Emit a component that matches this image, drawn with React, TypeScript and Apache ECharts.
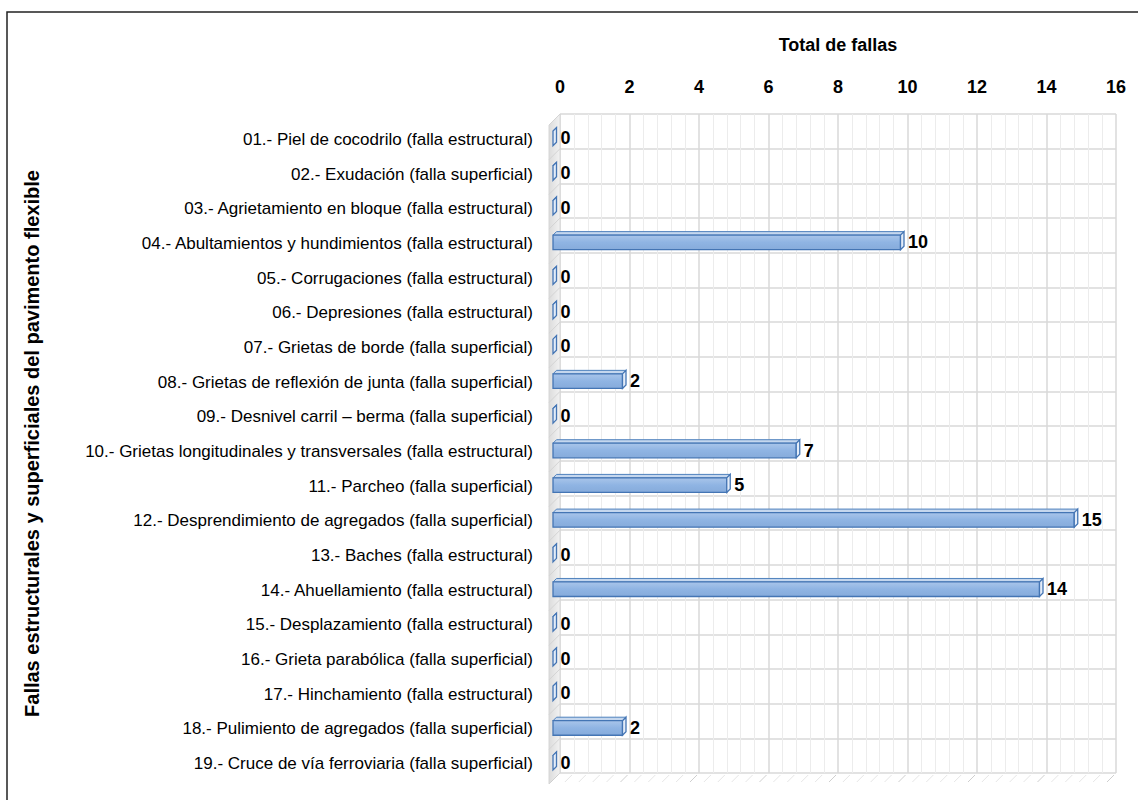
import React, { useEffect, useRef } from "react";
import * as echarts from "echarts";

const categories: string[] = [
  "01.- Piel de cocodrilo (falla estructural)",
  "02.- Exudación (falla superficial)",
  "03.- Agrietamiento en bloque (falla estructural)",
  "04.- Abultamientos y hundimientos (falla estructural)",
  "05.- Corrugaciones (falla estructural)",
  "06.- Depresiones (falla estructural)",
  "07.- Grietas de borde (falla superficial)",
  "08.- Grietas de reflexión de junta (falla superficial)",
  "09.- Desnivel carril – berma (falla superficial)",
  "10.- Grietas longitudinales y transversales (falla estructural)",
  "11.- Parcheo (falla superficial)",
  "12.- Desprendimiento de agregados (falla superficial)",
  "13.- Baches (falla estructural)",
  "14.- Ahuellamiento (falla estructural)",
  "15.- Desplazamiento (falla estructural)",
  "16.- Grieta parabólica (falla superficial)",
  "17.- Hinchamiento (falla estructural)",
  "18.- Pulimiento de agregados (falla superficial)",
  "19.- Cruce de vía ferroviaria (falla superficial)",
];

const totals: number[] = [0, 0, 0, 10, 0, 0, 0, 2, 0, 7, 5, 15, 0, 14, 0, 0, 0, 2, 0];

const axisMin = 0;
const axisMax = 16;
const axisStep = 2;

const xTitle = "Total de fallas";
const yTitle = "Fallas estructurales y superficiales del pavimento flexible";

// plot geometry (back wall of the 3-D box)
const GL = 560;
const GT = 114;
const GW = 556;
const GH = 659;
const DEPTH = 11; // perspective offset of the side wall / floor

const FONT = "'Liberation Sans', Arial, sans-serif";

function buildWallGraphics() {
  const els: any[] = [];
  const bottom = GT + GH;
  // outer frame
  els.push({
    type: "rect",
    z: 0,
    shape: { x: 7, y: 12, width: 1150, height: 820 },
    style: { fill: "none", stroke: "#222", lineWidth: 1.5 },
  });
  // left side wall
  els.push({
    type: "polygon",
    z: 1,
    shape: {
      points: [
        [GL, GT],
        [GL - DEPTH, GT + DEPTH],
        [GL - DEPTH, bottom + DEPTH],
        [GL, bottom],
      ],
    },
    style: {
      fill: new echarts.graphic.LinearGradient(0, 0, 1, 0, [
        { offset: 0, color: "#dcdcdc" },
        { offset: 1, color: "#f2f2f2" },
      ]),
      stroke: "#d6d6d6",
      lineWidth: 1,
    },
  });
  const rowH = GH / categories.length;
  for (let i = 0; i <= categories.length; i++) {
    const y = GT + i * rowH;
    els.push({
      type: "line",
      z: 1,
      shape: { x1: GL, y1: y, x2: GL - DEPTH, y2: y + DEPTH },
      style: { stroke: "#d4d4d4", lineWidth: 1 },
    });
  }
  // floor hatch
  const minorCount = ((axisMax - axisMin) / axisStep) * 5;
  for (let j = 0; j <= minorCount; j++) {
    const x = GL + (j * GW) / minorCount;
    const major = j % 5 === 0;
    els.push({
      type: "line",
      z: 1,
      shape: { x1: x - 2, y1: bottom + 2, x2: x - DEPTH + 2, y2: bottom + DEPTH - 2 },
      style: { stroke: major ? "#cfcfcf" : "#e6e6e6", lineWidth: 1 },
    });
  }
  return els;
}

function renderBar(params: any, api: any) {
  const idx = api.value(0);
  const val = api.value(1);
  const p0 = api.coord([0, idx]);
  const p1 = api.coord([val, idx]);
  const band = api.size([0, 1])[1];
  const h = band * 0.42;
  const d = 3.5;
  const fx0 = p0[0] - 7;
  const fx1 = p1[0] - 7;
  const cy = p0[1] + 7;
  const top = cy - h / 2;
  const bot = cy + h / 2;
  const children: any[] = [];
  // top face
  children.push({
    type: "polygon",
    shape: { points: [[fx0, top], [fx1, top], [fx1 + d, top - d], [fx0 + d, top - d]] },
    style: { fill: "#c5d7ee", stroke: "#4f81bd", lineWidth: 1 },
  });
  // front face
  if (fx1 > fx0) {
    children.push({
      type: "rect",
      shape: { x: fx0, y: top, width: fx1 - fx0, height: h },
      style: {
        fill: new echarts.graphic.LinearGradient(0, 0, 0, 1, [
          { offset: 0, color: "#a9c5ea" },
          { offset: 0.5, color: "#8fb4e3" },
          { offset: 1, color: "#86abdb" },
        ]),
        stroke: "#4475b4",
        lineWidth: 1.3,
      },
    });
  }
  // right face
  children.push({
    type: "polygon",
    shape: { points: [[fx1, top], [fx1 + d, top - d], [fx1 + d, bot - d], [fx1, bot]] },
    style: { fill: "#e3ecf8", stroke: "#4475b4", lineWidth: 1.3 },
  });
  children.push({
    type: "text",
    style: {
      text: String(val),
      x: fx1 + d + 4,
      y: cy,
      verticalAlign: "middle",
      align: "left",
      fill: "#000",
      font: `bold 18px ${FONT}`,
    },
  });
  return { type: "group", children };
}

export default function App() {
  const ref = useRef<HTMLDivElement>(null);
  useEffect(() => {
    if (!ref.current) return;
    const chart = echarts.init(ref.current, undefined, { renderer: "svg" });
    chart.setOption({
      animation: false,
      backgroundColor: "#fff",
      grid: { left: GL, top: GT, width: GW, height: GH },
      xAxis: {
        type: "value",
        position: "top",
        min: axisMin,
        max: axisMax,
        interval: axisStep,
        name: xTitle,
        nameLocation: "middle",
        nameGap: 60,
        nameTextStyle: { fontFamily: FONT, fontWeight: "bold", fontSize: 18, color: "#000" },
        axisLine: { show: false },
        axisTick: { show: false },
        axisLabel: { margin: 18, fontFamily: FONT, fontWeight: "bold", fontSize: 18, color: "#000" },
        splitLine: { show: true, lineStyle: { color: "#d9d9d9", width: 1.5 } },
        minorTick: { show: false, splitNumber: 5 },
        minorSplitLine: { show: true, lineStyle: { color: "#ececec", width: 1 } },
      },
      yAxis: {
        type: "category",
        inverse: true,
        data: categories,
        name: yTitle,
        nameLocation: "middle",
        nameRotate: 90,
        nameGap: 518,
        nameTextStyle: { fontFamily: FONT, fontWeight: "bold", fontSize: 20, color: "#000" },
        axisLine: { show: false },
        axisTick: { show: false },
        axisLabel: {
          margin: 27,
          verticalAlign: "top",
          lineHeight: 16,
          fontFamily: FONT,
          fontSize: 17,
          color: "#000",
        },
        splitLine: { show: true, lineStyle: { color: "#d9d9d9", width: 1.5 } },
      },
      graphic: buildWallGraphics(),
      series: [
        {
          type: "custom",
          z: 10,
          renderItem: renderBar,
          encode: { x: 1, y: 0 },
          data: totals.map((v, i) => [i, v]),
        },
      ],
    });
    return () => chart.dispose();
  }, []);
  return (
    <div
      ref={ref}
      style={{ position: "fixed", left: 0, top: 0, width: 1138, height: 800, background: "#fff" }}
    />
  );
}
